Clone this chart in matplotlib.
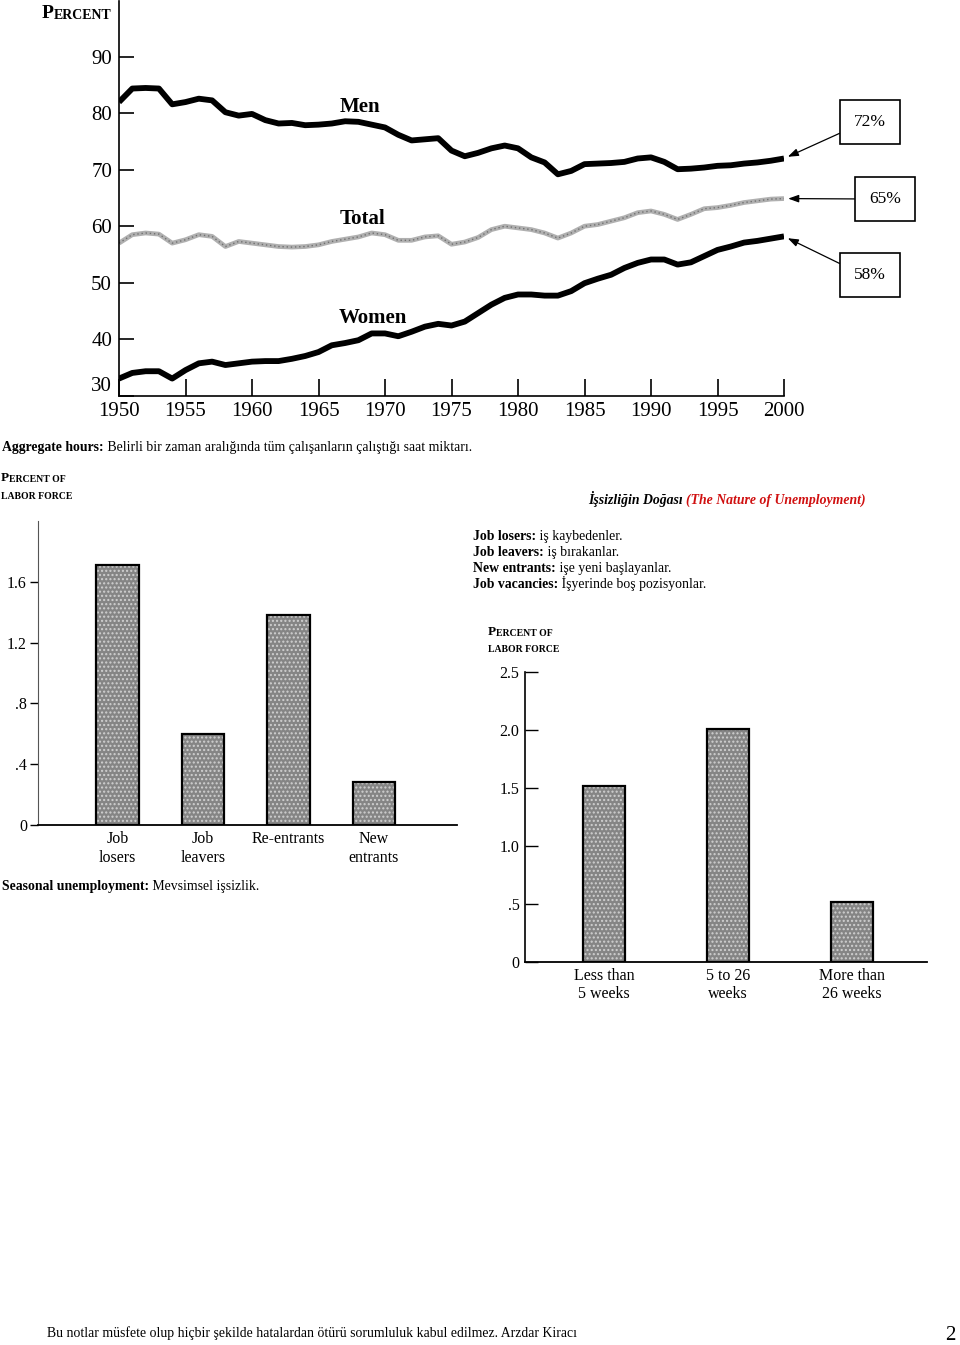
import matplotlib
matplotlib.use('Agg')
import matplotlib.pyplot as plt

# labor force participation, 1950-2000
years = list(range(1950, 2001))
men = [82.0, 84.4, 84.5, 84.4, 81.6, 82.0, 82.6, 82.3, 80.2, 79.6,
       79.9, 78.8, 78.2, 78.3, 77.9, 78.0, 78.2, 78.6, 78.5, 78.0,
       77.5, 76.2, 75.2, 75.4, 75.6, 73.4, 72.4, 73.0, 73.8, 74.3,
       73.8, 72.2, 71.3, 69.2, 69.8, 71.0, 71.1, 71.2, 71.4, 72.0,
       72.2, 71.4, 70.1, 70.2, 70.4, 70.7, 70.8, 71.1, 71.3, 71.6, 72.0]
total = [57.0, 58.5, 58.8, 58.6, 57.0, 57.6, 58.5, 58.2, 56.4, 57.3,
         57.0, 56.7, 56.4, 56.3, 56.4, 56.7, 57.3, 57.7, 58.1, 58.8,
         58.5, 57.5, 57.5, 58.1, 58.3, 56.8, 57.2, 58.0, 59.4, 60.0,
         59.7, 59.4, 58.8, 57.9, 58.8, 60.0, 60.3, 60.9, 61.5, 62.4,
         62.7, 62.1, 61.2, 62.1, 63.1, 63.3, 63.7, 64.2, 64.5, 64.8, 64.9]
women = [33.0, 34.0, 34.3, 34.3, 33.0, 34.5, 35.7, 36.0, 35.4, 35.7,
         36.0, 36.1, 36.1, 36.5, 37.0, 37.7, 38.9, 39.3, 39.8, 41.0,
         41.0, 40.5, 41.3, 42.2, 42.7, 42.4, 43.1, 44.6, 46.1, 47.3,
         47.9, 47.9, 47.7, 47.7, 48.5, 49.9, 50.7, 51.4, 52.6, 53.5,
         54.1, 54.1, 53.2, 53.6, 54.7, 55.8, 56.4, 57.1, 57.4, 57.8, 58.2]
year_ticks = [1950, 1955, 1960, 1965, 1970, 1975, 1980, 1985, 1990, 1995, 2000]
pct_ticks = [30, 40, 50, 60, 70, 80, 90]
end_labels = ['72%', '65%', '58%']

# unemployment by reason
reason_cats = ['Job\nlosers', 'Job\nleavers', 'Re-entrants', 'New\nentrants']
reason_vals = [1.71, 0.60, 1.38, 0.28]
reason_ticks = [0, 0.4, 0.8, 1.2, 1.6]
reason_ticklabels = ['0', '.4', '.8', '1.2', '1.6']

# unemployment by duration
dur_cats = ['Less than\n5 weeks', '5 to 26\nweeks', 'More than\n26 weeks']
dur_vals = [1.52, 2.01, 0.52]
dur_ticks = [0, 0.5, 1.0, 1.5, 2.0, 2.5]
dur_ticklabels = ['0', '.5', '1.0', '1.5', '2.0', '2.5']

SERIF = 'Liberation Serif'
plt.rcParams['font.family'] = SERIF
TXT = 9.9

W, H = 960, 1345
fig = plt.figure(figsize=(W / 100, H / 100), dpi=100)


def box(l, t, r, b):
    return [l / W, 1 - b / H, (r - l) / W, (b - t) / H]


# page text layer in pixel coordinates
bg = fig.add_axes([0, 0, 1, 1])
bg.set_xlim(0, W)
bg.set_ylim(H, 0)
bg.axis('off')


def chain(parts, x, y, size):
    # parts: (text, weight, style, color) written one after another
    prev = None
    for txt, wt, st, col in parts:
        if prev is None:
            prev = bg.text(x, y, txt, fontsize=size, fontweight=wt, fontstyle=st,
                           color=col, ha='left', va='baseline')
        else:
            prev = bg.annotate(txt, xy=(1, 0), xycoords=prev, fontsize=size,
                               fontweight=wt, fontstyle=st, color=col,
                               ha='left', va='bottom')
    return prev


def smallcaps(x, y, big, rest, s1, s2):
    t = bg.text(x, y, big, fontsize=s1, fontweight='bold', ha='left', va='baseline')
    bg.annotate(rest, xy=(1, 0), xycoords=t, xytext=(0, 0), textcoords='offset points',
                fontsize=s2, fontweight='bold', ha='left', va='bottom')


# ---- top chart: participation rates ----
ax = fig.add_axes(box(119, 0.5, 784, 395.5))
ax.patch.set_alpha(0)
ax.plot(years, men, color='black', lw=4.2, solid_capstyle='butt', solid_joinstyle='round')
ax.plot(years, women, color='black', lw=4.2, solid_capstyle='butt', solid_joinstyle='round')
ax.plot(years, total, color='#b0b0b0', lw=3.4, solid_capstyle='butt')
ax.plot(years, total, color='#707070', lw=1.0, ls=(0, (1, 2)))
ax.set_xlim(1950, 2000)
ax.set_ylim(30, 100)
for s in ['top', 'right']:
    ax.spines[s].set_visible(False)
ax.spines['left'].set_linewidth(1.2)
ax.spines['bottom'].set_linewidth(1.2)
ax.set_xticks(year_ticks)
ax.set_yticks(pct_ticks)
ax.tick_params(axis='y', direction='in', length=11, width=1.2, pad=5, labelsize=15)
ax.tick_params(axis='x', direction='in', length=12, width=1.2, pad=5, labelsize=15)
ax.get_yticklabels()[0].set_va('bottom')

ax.text(1968.1, 81.1, 'Men', fontsize=15, fontweight='bold', ha='center', va='center')
ax.text(1968.3, 61.3, 'Total', fontsize=15, fontweight='bold', ha='center', va='center')
ax.text(1969.1, 43.7, 'Women', fontsize=15, fontweight='bold', ha='center', va='center')

ends = [men[-1], total[-1], women[-1]]
box_pos = [(870, H - 122), (885, H - 199), (870, H - 275)]
rel = [(0, 0.2), (0, 0.5), (0, 0.78)]
for lab, yv, pos, rp in zip(end_labels, ends, box_pos, rel):
    ax.annotate(lab, xy=(years[-1], yv), xytext=pos, textcoords='figure pixels',
                fontsize=12.5, ha='center', va='center', annotation_clip=False,
                bbox=dict(boxstyle='square,pad=0.8', fc='white', ec='black', lw=1.2),
                arrowprops=dict(arrowstyle='-|>,head_length=0.5,head_width=0.18',
                                color='black', lw=0.9, relpos=rp, shrinkA=0, shrinkB=3))

smallcaps(42, 18, 'P', 'ERCENT', 14, 10)

# ---- captions ----
chain([('Aggregate hours:', 'bold', 'normal', 'black'),
       (' Belirli bir zaman aralığında tüm çalışanların çalıştığı saat miktarı.',
        'normal', 'normal', 'black')], 2, 451, TXT)

chain([('İşsizliğin Doğası ', 'bold', 'italic', 'black'),
       ('(The Nature of Unemployment)', 'bold', 'italic', '#d01010')], 588, 504, TXT)

defs = [('Job losers:', ' iş kaybedenler.'),
        ('Job leavers:', ' iş bırakanlar.'),
        ('New entrants:', ' işe yeni başlayanlar.'),
        ('Job vacancies:', ' İşyerinde boş pozisyonlar.')]
for i, (a, b) in enumerate(defs):
    chain([(a, 'bold', 'normal', 'black'), (b, 'normal', 'normal', 'black')],
          473, 540 + 16 * i, TXT)

chain([('Seasonal unemployment:', 'bold', 'normal', 'black'),
       (' Mevsimsel işsizlik.', 'normal', 'normal', 'black')], 2, 890, TXT)

bg.text(47, 1337, 'Bu notlar müsfete olup hiçbir şekilde hatalardan ötürü sorumluluk '
        'kabul edilmez. Arzdar Kiracı', fontsize=9.9, ha='left', va='baseline')
bg.text(956, 1340, '2', fontsize=15, ha='right', va='baseline')


def texture_bars(a, xs, vals, width):
    a.bar(xs, vals, width=width, color='#858585', edgecolor='#d0d0d0', hatch='....',
          linewidth=0, zorder=2)
    a.bar(xs, vals, width=width, fill=False, edgecolor='black', linewidth=1.6, zorder=3)


# ---- reasons chart ----
smallcaps(1, 481, 'P', 'ERCENT OF', 9.5, 7)
bg.text(1, 499, 'LABOR FORCE', fontsize=7, fontweight='bold', ha='left', va='baseline')

ax1 = fig.add_axes(box(38, 521, 457, 825))
ax1.patch.set_alpha(0)
x1 = list(range(len(reason_cats)))
texture_bars(ax1, x1, reason_vals, 0.5)
ax1.set_xlim(-0.93, 3.97)
ax1.set_ylim(0, 2.0)
for s in ['top', 'right']:
    ax1.spines[s].set_visible(False)
ax1.spines['left'].set_color('#555555')
ax1.spines['bottom'].set_linewidth(1.3)
ax1.set_yticks(reason_ticks)
ax1.set_yticklabels(reason_ticklabels)
ax1.set_xticks(x1)
ax1.set_xticklabels(reason_cats, linespacing=1.3)
ax1.tick_params(axis='y', direction='out', length=6, width=1, pad=2, labelsize=11.5)
ax1.tick_params(axis='x', length=0, pad=4, labelsize=11.5)

# ---- duration chart ----
smallcaps(488, 635, 'P', 'ERCENT OF', 9.5, 7)
bg.text(488, 652, 'LABOR FORCE', fontsize=7, fontweight='bold', ha='left', va='baseline')

ax2 = fig.add_axes(box(525, 672, 927, 962))
ax2.patch.set_alpha(0)
x2 = list(range(len(dur_cats)))
texture_bars(ax2, x2, dur_vals, 0.34)
ax2.set_xlim(-0.637, 2.605)
ax2.set_ylim(0, 2.5)
for s in ['top', 'right']:
    ax2.spines[s].set_visible(False)
ax2.spines['left'].set_linewidth(1.2)
ax2.spines['bottom'].set_linewidth(1.3)
ax2.set_yticks(dur_ticks)
ax2.set_yticklabels(dur_ticklabels)
ax2.set_xticks(x2)
ax2.set_xticklabels(dur_cats, linespacing=1.2)
ax2.tick_params(axis='y', direction='in', length=9, width=1, pad=4, labelsize=11.5)
ax2.tick_params(axis='x', length=0, pad=4, labelsize=11.5)

fig.savefig('out.png', dpi=100)
